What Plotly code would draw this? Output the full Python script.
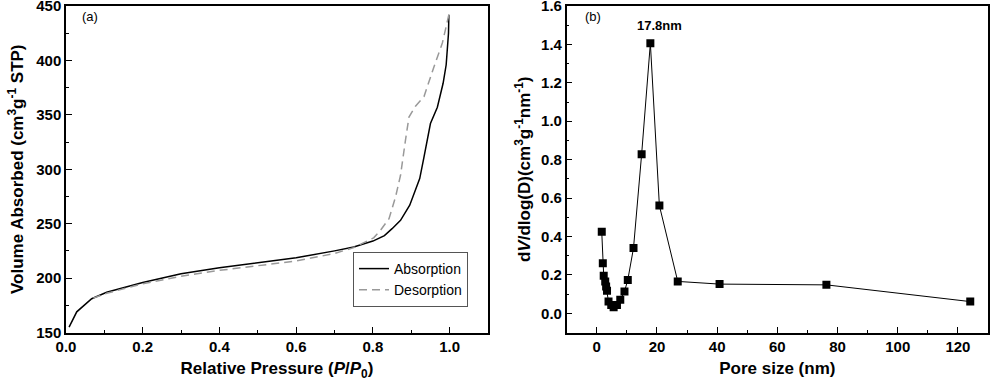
import plotly.graph_objects as go

# Panel (a): isotherm
ads_p = [0.008, 0.028, 0.067, 0.106, 0.2, 0.3, 0.4, 0.5, 0.6, 0.7, 0.75, 0.8, 0.83, 0.85,
         0.872, 0.896, 0.922, 0.933, 0.942, 0.950, 0.968, 0.983, 0.991, 0.997, 0.998]
ads_v = [155, 169, 181, 187, 196, 204, 209.5, 214.4, 218.7, 225, 228.5, 234, 239, 245.4,
         253, 267, 291.4, 311, 327, 342, 357, 379, 396, 425, 442]
des_p = [0.998, 0.981, 0.959, 0.933, 0.911, 0.894, 0.885, 0.872, 0.859, 0.842, 0.82, 0.802,
         0.75, 0.698, 0.598, 0.498, 0.398, 0.298, 0.2, 0.106, 0.071]
des_v = [442, 416, 394, 366.6, 358, 348, 327, 294.5, 274.5, 254.6, 244, 237,
         228, 222.4, 215.6, 211, 207, 201.5, 194.8, 186, 181.6]

# Panel (b): pore size distribution
pore_d = [1.65, 2.0, 2.3, 2.8, 3.1, 3.4, 3.9, 4.8, 5.6, 6.7, 7.8, 9.2, 10.3, 12.2,
          14.9, 17.8, 20.8, 26.9, 40.8, 76.3, 124.1]
pore_v = [0.424, 0.261, 0.195, 0.165, 0.139, 0.118, 0.061, 0.043, 0.031, 0.043, 0.07, 0.113,
          0.174, 0.34, 0.828, 1.406, 0.561, 0.166, 0.152, 0.148, 0.061]

FONT = "Liberation Sans, Arial, sans-serif"
W, H = 991, 382

fig = go.Figure()
fig.add_trace(go.Scatter(x=ads_p, y=ads_v, mode="lines", name="Absorption",
                         line=dict(color="black", width=1.5), xaxis="x", yaxis="y"))
fig.add_trace(go.Scatter(x=des_p, y=des_v, mode="lines", name="Desorption",
                         line=dict(color="#999999", width=1.5, dash="8px,5px"), xaxis="x", yaxis="y"))
fig.add_trace(go.Scatter(x=pore_d, y=pore_v, mode="lines+markers", showlegend=False,
                         line=dict(color="black", width=1),
                         marker=dict(symbol="square", size=8, color="black"),
                         xaxis="x2", yaxis="y2"))

common = dict(showline=True, linecolor="black", linewidth=1.5, mirror=True,
              ticks="inside", ticklen=6, tickwidth=1, tickcolor="black",
              showgrid=False, zeroline=False, automargin=False,
              ticklabeloverflow="allow",
              tickfont=dict(family=FONT, size=15, color="black", weight="bold"),
              title_font=dict(family=FONT, size=17, color="black", weight="bold"))

ydom = [1 - 332.5 / H, 1 - 6 / H]
fig.update_layout(
    template="none",
    width=W, height=H,
    margin=dict(l=0, r=0, t=0, b=0, autoexpand=False),
    paper_bgcolor="white", plot_bgcolor="white",
    font=dict(family=FONT, color="black"),
    xaxis=dict(domain=[66 / W, 488 / W], range=[0, 1.1], dtick=0.2, tick0=0, tickformat=".1f",
               minor=dict(dtick=0.1, ticks="inside", ticklen=3, tickcolor="black"),
               title=dict(text="Relative Pressure (<i>P</i>/<i>P</i><sub>0</sub>)", standoff=8),
               anchor="y", **common),
    yaxis=dict(domain=ydom, range=[150, 450], dtick=50, tick0=0,
               minor=dict(dtick=25, ticks="inside", ticklen=3, tickcolor="black"),
               title=dict(text="Volume Absorbed (cm<sup>3</sup>g<sup>-1</sup> STP)", standoff=8),
               anchor="x", **common),
    xaxis2=dict(domain=[566.7 / W, 988 / W], range=[-10, 130], dtick=20, tick0=0,
                minor=dict(dtick=10, ticks="inside", ticklen=3, tickcolor="black"),
                title=dict(text="Pore size (nm)", standoff=8),
                anchor="y2", **common),
    yaxis2=dict(domain=ydom, range=[-0.1, 1.6], dtick=0.2, tick0=0, tickformat=".1f",
                minor=dict(dtick=0.1, ticks="inside", ticklen=3, tickcolor="black"),
                title=dict(text="d<i>V</i>/dlog(D)(cm<sup>3</sup>g<sup>-1</sup>nm<sup>-1</sup>)", standoff=6),
                anchor="x2", **common),
    legend=dict(x=353 / W, y=1 - 252 / H, xanchor="left", yanchor="top",
                bordercolor="#555555", borderwidth=1, bgcolor="white",
                font=dict(family=FONT, size=14, color="black"),
                tracegroupgap=0, itemwidth=30),
    showlegend=True,
)

fig.add_annotation(text="(a)", xref="paper", yref="paper", x=80 / W, y=1 - 16 / H,
                   xanchor="left", yanchor="middle", showarrow=False,
                   font=dict(family=FONT, size=13, color="black"))
fig.add_annotation(text="(b)", xref="paper", yref="paper", x=583 / W, y=1 - 16 / H,
                   xanchor="left", yanchor="middle", showarrow=False,
                   font=dict(family=FONT, size=13, color="black"))
fig.add_annotation(text="<b>17.8nm</b>", xref="x2", yref="y2", x=20.7, y=1.5,
                   showarrow=False, font=dict(family=FONT, size=13, color="black"))

fig.write_html("out.html", config={"displayModeBar": False},
               post_script="document.body.style.margin='0';document.body.style.overflow='hidden';")
